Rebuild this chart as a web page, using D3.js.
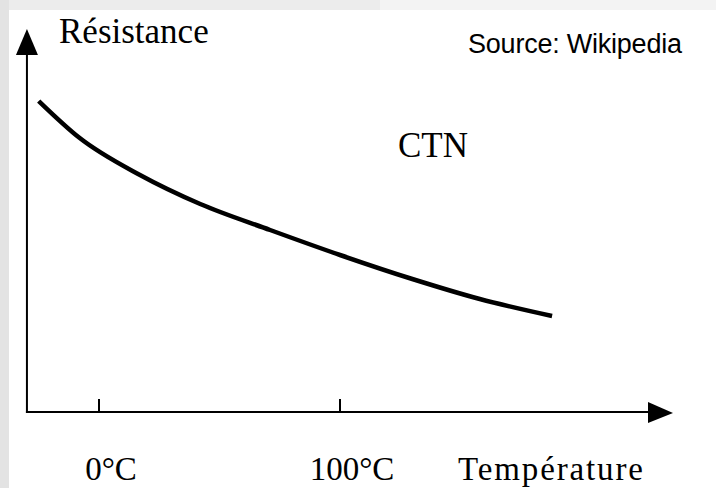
<!DOCTYPE html>
<html>
<head>
<meta charset="utf-8">
<script src="https://cdn.jsdelivr.net/npm/d3@7"></script>
<style>
  html, body { margin: 0; padding: 0; background: #ffffff; }
  svg { display: block; }
</style>
</head>
<body>
<svg id="chart" width="716" height="488"></svg>
<script>
// ---- data (arbitrary resistance units) ----
const temperatures = [-25, -8, 17, 42, 71, 100, 130, 158, 188];
const resistances  = [311, 274, 237, 208, 182, 157, 133, 113, 96];
const tickTemps    = [0, 100];
const tickLabels   = ["0°C", "100°C"];
const yAxisTitle   = "Résistance";
const xAxisTitle   = "Température";
const curveLabel   = "CTN";
const sourceText   = "Source: Wikipedia";

const W = 716, H = 488;
const svg = d3.select("#chart");

// frame (grey border top/left)
svg.append("rect").attr("x", 0).attr("y", 0).attr("width", W).attr("height", H).attr("fill", "#ffffff");
svg.append("rect").attr("x", 0).attr("y", 0).attr("width", 380).attr("height", 10).attr("fill", "#ececec");
svg.append("rect").attr("x", 380).attr("y", 0).attr("width", W - 380).attr("height", 10).attr("fill", "#f3f3f3");
svg.append("rect").attr("x", 0).attr("y", 0).attr("width", 9).attr("height", H).attr("fill", "#e3e3e3");

// scales: origin at (27, 412)
const x = d3.scaleLinear().domain([0, 100]).range([99, 340]);
const y = d3.scaleLinear().domain([0, 100]).range([412, 312]);

const x0 = x(-29.9), y0 = y(0);
const xEnd = 673, yTop = 29;

// axes lines
svg.append("line").attr("x1", x0).attr("y1", y0 + 1).attr("x2", x0).attr("y2", yTop + 20)
  .attr("stroke", "#000").attr("stroke-width", 2);
svg.append("line").attr("x1", x0 - 1).attr("y1", y0).attr("x2", xEnd - 18).attr("y2", y0)
  .attr("stroke", "#000").attr("stroke-width", 2);

// arrowheads
svg.append("path")
  .attr("d", `M${x0},${yTop} L${x0 + 11},${yTop + 26} L${x0 - 11},${yTop + 26} Z`)
  .attr("fill", "#000");
svg.append("path")
  .attr("d", `M${xEnd},${y0 + 1} L${xEnd - 25},${y0 + 11} L${xEnd - 25},${y0 - 10} Z`)
  .attr("fill", "#000");

// ticks
svg.selectAll(".tick").data(tickTemps).enter().append("line")
  .attr("x1", d => x(d)).attr("x2", d => x(d))
  .attr("y1", y0).attr("y2", y0 - 13)
  .attr("stroke", "#000").attr("stroke-width", 2);

const serif = "'Liberation Serif', 'DejaVu Serif', serif";

// tick labels
svg.selectAll(".tlabel").data(tickTemps).enter().append("text")
  .attr("x", d => x(d) + 12).attr("y", 480)
  .attr("text-anchor", "middle")
  .attr("font-family", serif)
  .attr("font-size", 33).attr("fill", "#000")
  .text((d, i) => tickLabels[i]);

// curve
const pts = temperatures.map((t, i) => [t, resistances[i]]);
const line = d3.line().x(d => x(d[0])).y(d => y(d[1])).curve(d3.curveMonotoneX);
svg.append("path").attr("d", line(pts))
  .attr("fill", "none").attr("stroke", "#000").attr("stroke-width", 4.5)
  .attr("stroke-linejoin", "round");

// texts
svg.append("text").attr("x", 59).attr("y", 43).attr("font-family", serif).attr("font-size", 35)
  .attr("fill", "#000").text(yAxisTitle);
svg.append("text").attr("x", 458).attr("y", 480).attr("font-family", serif).attr("font-size", 33)
  .attr("fill", "#000").attr("textLength", 185).text(xAxisTitle);
svg.append("text").attr("x", 398).attr("y", 157).attr("font-family", serif).attr("font-size", 35)
  .attr("fill", "#000").text(curveLabel);
svg.append("text").attr("x", 468).attr("y", 53).attr("font-family", "'Liberation Sans', Arial, sans-serif")
  .attr("font-size", 27).attr("fill", "#000").attr("textLength", 214).text(sourceText);
</script>
</body>
</html>
